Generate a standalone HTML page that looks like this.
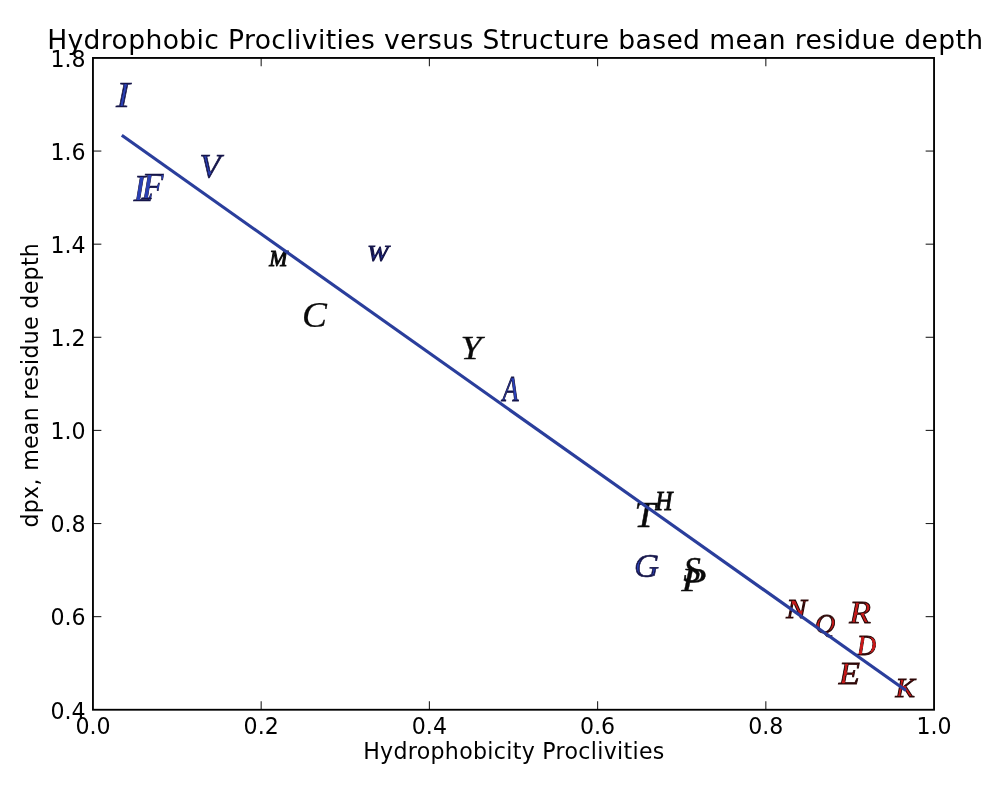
<!DOCTYPE html>
<html><head><meta charset="utf-8"><title>Hydrophobic Proclivities versus Structure based mean residue depth</title>
<style>
html,body{margin:0;padding:0;background:#fff;}
svg{display:block;}
.s{font-family:"DejaVu Sans","Liberation Sans",sans-serif;font-size:22.6px;fill:#000;}
.m{font-family:"Liberation Serif","DejaVu Serif",serif;font-style:italic;}
.k{font-size:22.1px;}
.l{font-size:22.1px;letter-spacing:0.31px;}
.t{stroke:#222;stroke-width:1.1;}
</style></head><body>
<svg width="1000" height="792" viewBox="0 0 1000 792">
<rect x="0" y="0" width="1000" height="792" fill="#fff"/>
<defs><filter id="fb" x="-30%" y="-30%" width="160%" height="160%" color-interpolation-filters="sRGB"><feGaussianBlur in="SourceAlpha" stdDeviation="0.8" result="b"/><feComponentTransfer in="b" result="m"><feFuncA type="linear" slope="8" intercept="-6.32"/></feComponentTransfer><feFlood flood-color="#2a3fb2" result="c"/><feComposite in="c" in2="m" operator="in" result="core"/><feMerge><feMergeNode in="SourceGraphic"/><feMergeNode in="core"/></feMerge></filter><filter id="fr" x="-30%" y="-30%" width="160%" height="160%" color-interpolation-filters="sRGB"><feGaussianBlur in="SourceAlpha" stdDeviation="0.8" result="b"/><feComponentTransfer in="b" result="m"><feFuncA type="linear" slope="8" intercept="-5.92"/></feComponentTransfer><feFlood flood-color="#c41a1a" result="c"/><feComposite in="c" in2="m" operator="in" result="core"/><feMerge><feMergeNode in="SourceGraphic"/><feMergeNode in="core"/></feMerge></filter><filter id="fb2" x="-30%" y="-30%" width="160%" height="160%" color-interpolation-filters="sRGB"><feGaussianBlur in="SourceAlpha" stdDeviation="0.8" result="b"/><feComponentTransfer in="b" result="m"><feFuncA type="linear" slope="8" intercept="-6.88"/></feComponentTransfer><feFlood flood-color="#2a40b6" result="c"/><feComposite in="c" in2="m" operator="in" result="core"/><feMerge><feMergeNode in="SourceGraphic"/><feMergeNode in="core"/></feMerge></filter></defs>
<text class="m" transform="translate(116.06,107.30) scale(1.1513,1)" font-size="36.50" fill="#15154a" stroke="#15154a" stroke-width="0.6" filter="url(#fb)">I</text>
<text class="m" transform="translate(199.54,176.73) scale(1.0142,1)" font-size="34.18" fill="#15154a" stroke="#15154a" stroke-width="0.7" filter="url(#fb)">V</text>
<text class="m" transform="translate(133.71,200.70) scale(0.9486,1)" font-size="37.26" fill="#15154a" stroke="#15154a" stroke-width="0.6" filter="url(#fb)">L</text>
<text class="m" transform="translate(141.49,199.20) scale(0.9432,1)" font-size="38.03" fill="#15154a" stroke="#15154a" stroke-width="0.6" filter="url(#fb)">F</text>
<text class="m" transform="translate(269.36,266.00) scale(0.9572,1)" font-size="22.76" fill="#0a0a0a" stroke="#0a0a0a" stroke-width="1.0">M</text>
<text class="m" transform="translate(367.32,261.15) scale(1.1026,1)" font-size="23.14" fill="#15154a" stroke="#15154a" stroke-width="1.0" filter="url(#fb2)">W</text>
<text class="m" transform="translate(302.02,326.68) scale(1.0680,1)" font-size="35.00" fill="#0a0a0a" stroke="#0a0a0a" stroke-width="0.2">C</text>
<text class="m" transform="translate(460.38,359.35) scale(1.1188,1)" font-size="33.90" fill="#0a0a0a" stroke="#0a0a0a" stroke-width="0.3">Y</text>
<text class="m" transform="translate(502.39,400.55) scale(0.7391,1)" font-size="35.60" fill="#15154a" stroke="#15154a" stroke-width="0.9" filter="url(#fb2)">A</text>
<text class="m" transform="translate(634.59,526.65) scale(1.0812,1)" font-size="34.82" fill="#0a0a0a" stroke="#0a0a0a" stroke-width="0.5">T</text>
<text class="m" transform="translate(655.21,509.85) scale(0.8950,1)" font-size="26.57" fill="#0a0a0a" stroke="#0a0a0a" stroke-width="0.9">H</text>
<text class="m" transform="translate(633.89,577.40) scale(1.0301,1)" font-size="33.69" fill="#15154a" stroke="#15154a" stroke-width="0.6" filter="url(#fb)">G</text>
<text class="m" transform="translate(683.45,582.40) scale(0.9584,1)" font-size="36.02" fill="#0a0a0a" stroke="#0a0a0a" stroke-width="0.5">S</text>
<text class="m" transform="translate(681.37,590.85) scale(1.1913,1)" font-size="34.67" fill="#0a0a0a" stroke="#0a0a0a" stroke-width="0.3">P</text>
<text class="m" transform="translate(786.22,617.50) scale(1.1104,1)" font-size="27.49" fill="#2c0707" stroke="#2c0707" stroke-width="1.0" filter="url(#fr)">N</text>
<text class="m" transform="translate(814.91,633.35) scale(1.0047,1)" font-size="27.78" fill="#2c0707" stroke="#2c0707" stroke-width="0.9" filter="url(#fr)">Q</text>
<text class="m" transform="translate(849.19,623.40) scale(1.1402,1)" font-size="31.16" fill="#2c0707" stroke="#2c0707" stroke-width="0.8" filter="url(#fr)">R</text>
<text class="m" transform="translate(856.95,654.59) scale(0.9048,1)" font-size="29.08" fill="#2c0707" stroke="#2c0707" stroke-width="0.9" filter="url(#fr)">D</text>
<text class="m" transform="translate(838.81,683.80) scale(1.1115,1)" font-size="31.16" fill="#2c0707" stroke="#2c0707" stroke-width="0.8" filter="url(#fr)">E</text>
<text class="m" transform="translate(895.44,696.50) scale(1.0585,1)" font-size="27.49" fill="#2c0707" stroke="#2c0707" stroke-width="1.0" filter="url(#fr)">K</text>
<line x1="121.8" y1="135.3" x2="906" y2="690.5" stroke="#2a3e9c" stroke-width="3.15" stroke-linecap="butt"/>
<text class="s k" x="92.95" y="733.9" text-anchor="middle">0.0</text>
<line x1="261.17" y1="709.75" x2="261.17" y2="701.35" class="t"/>
<line x1="261.17" y1="57.95" x2="261.17" y2="66.35" class="t"/>
<text class="s k" x="261.17" y="733.9" text-anchor="middle">0.2</text>
<line x1="429.39" y1="709.75" x2="429.39" y2="701.35" class="t"/>
<line x1="429.39" y1="57.95" x2="429.39" y2="66.35" class="t"/>
<text class="s k" x="429.39" y="733.9" text-anchor="middle">0.4</text>
<line x1="597.61" y1="709.75" x2="597.61" y2="701.35" class="t"/>
<line x1="597.61" y1="57.95" x2="597.61" y2="66.35" class="t"/>
<text class="s k" x="597.61" y="733.9" text-anchor="middle">0.6</text>
<line x1="765.83" y1="709.75" x2="765.83" y2="701.35" class="t"/>
<line x1="765.83" y1="57.95" x2="765.83" y2="66.35" class="t"/>
<text class="s k" x="765.83" y="733.9" text-anchor="middle">0.8</text>
<text class="s k" x="934.05" y="733.9" text-anchor="middle">1.0</text>
<text class="s k" x="85.6" y="718.55" text-anchor="end">0.4</text>
<line x1="92.95" y1="616.64" x2="101.35" y2="616.64" class="t"/>
<line x1="934.05" y1="616.64" x2="925.65" y2="616.64" class="t"/>
<text class="s k" x="85.6" y="625.44" text-anchor="end">0.6</text>
<line x1="92.95" y1="523.52" x2="101.35" y2="523.52" class="t"/>
<line x1="934.05" y1="523.52" x2="925.65" y2="523.52" class="t"/>
<text class="s k" x="85.6" y="532.32" text-anchor="end">0.8</text>
<line x1="92.95" y1="430.41" x2="101.35" y2="430.41" class="t"/>
<line x1="934.05" y1="430.41" x2="925.65" y2="430.41" class="t"/>
<text class="s k" x="85.6" y="439.21" text-anchor="end">1.0</text>
<line x1="92.95" y1="337.29" x2="101.35" y2="337.29" class="t"/>
<line x1="934.05" y1="337.29" x2="925.65" y2="337.29" class="t"/>
<text class="s k" x="85.6" y="346.09" text-anchor="end">1.2</text>
<line x1="92.95" y1="244.18" x2="101.35" y2="244.18" class="t"/>
<line x1="934.05" y1="244.18" x2="925.65" y2="244.18" class="t"/>
<text class="s k" x="85.6" y="252.98" text-anchor="end">1.4</text>
<line x1="92.95" y1="151.06" x2="101.35" y2="151.06" class="t"/>
<line x1="934.05" y1="151.06" x2="925.65" y2="151.06" class="t"/>
<text class="s k" x="85.6" y="159.86" text-anchor="end">1.6</text>
<text class="s k" x="85.6" y="66.75" text-anchor="end">1.8</text>
<rect x="92.95" y="57.95" width="841.10" height="651.80" fill="none" stroke="#000" stroke-width="1.85"/>
<text class="s" id="title" x="515.3" y="48.9" text-anchor="middle" style="font-size:26.6px;letter-spacing:0.36px">Hydrophobic Proclivities versus Structure based mean residue depth</text>
<text class="s l" id="xl" x="513.9" y="759.4" text-anchor="middle">Hydrophobicity Proclivities</text>
<text class="s l" id="yl" transform="translate(37.6,385.2) rotate(-90)" text-anchor="middle">dpx, mean residue depth</text>
</svg>
</body></html>
